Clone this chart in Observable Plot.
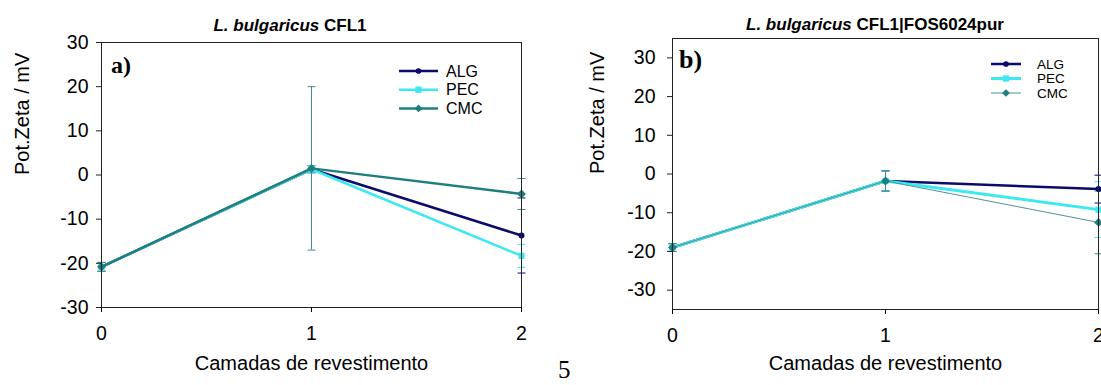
<!DOCTYPE html>
<html>
<head>
<meta charset="utf-8">
<script src="https://cdn.jsdelivr.net/npm/d3@7"></script>
<script src="https://cdn.jsdelivr.net/npm/@observablehq/plot@0.6"></script>
<style>
  html, body { margin: 0; padding: 0; background: #fff; }
  #wrap { position: relative; width: 1101px; height: 385px; overflow: hidden; font-family: "Liberation Sans", Arial, sans-serif; }
  .abs { position: absolute; }
  .title { font-weight: bold; font-size: 17px; white-space: nowrap; transform: translateX(-50%); color: #000; }
  .panel { font-family: "Liberation Serif", "Times New Roman", serif; font-weight: bold; color: #000; }
</style>
</head>
<body>
<div id="wrap"></div>
<script>
// ---------- data ----------
const layers = [0, 1, 2];
const seriesNames = ["ALG", "PEC", "CMC"];
const yTicksA = [-30, -20, -10, 0, 10, 20, 30];
const yTicksB = [-30, -20, -10, 0, 10, 20, 30];

// Panel a) L. bulgaricus CFL1
const aALG = [-20.8, 1.3, -13.7];
const aALGerr = [1.0, 0.8, 8.5];
const aPEC = [-20.8, 1.3, -18.3];
const aPECerr = [1.0, 0.8, 2.6];
const aCMC = [-20.8, 1.5, -4.3];
const aCMCerr = [1.0, 18.5, 3.5];

// Panel b) L. bulgaricus CFL1|FOS6024pur
const bALG = [-19.0, -1.8, -3.9];
const bALGerr = [1.0, 2.6, 3.6];
const bPEC = [-19.0, -1.8, -9.2];
const bPECerr = [1.0, 2.6, 7.2];
const bCMC = [-19.0, -1.8, -12.5];
const bCMCerr = [1.0, 2.6, 8.1];

// ---------- styles ----------
const colors = { ALG: "#0b0b6e", PEC: "#3de9f0", CMC: "#1f7e7e" };
const symbols = { ALG: "circle", PEC: "square", CMC: "diamond2" };

const cap = { draw(ctx, size) { const w = 4; ctx.moveTo(-w, 0); ctx.lineTo(w, 0); } };

function rows(vals, errs, name) {
  return layers.map((x, i) => ({ x, y: vals[i], lo: vals[i] - errs[i], hi: vals[i] + errs[i], s: name }));
}

function makePlot(cfg) {
  const marks = [];
  // error bars
  cfg.series.forEach(sr => {
    marks.push(Plot.ruleX(sr.data, { x: "x", y1: "lo", y2: "hi", stroke: sr.errColor, strokeWidth: 1 }));
    marks.push(Plot.dot(sr.data, { x: "x", y: "lo", symbol: cap, stroke: sr.errColor, strokeWidth: 1, r: 4 }));
    marks.push(Plot.dot(sr.data, { x: "x", y: "hi", symbol: cap, stroke: sr.errColor, strokeWidth: 1, r: 4 }));
  });
  // lines and markers
  cfg.series.forEach(sr => {
    marks.push(Plot.line(sr.data, { x: "x", y: "y", stroke: sr.color, strokeWidth: sr.width }));
    marks.push(Plot.dot(sr.data, { x: "x", y: "y", symbol: symbols[sr.name], fill: sr.markColor, stroke: "none", r: sr.r }));
  });
  marks.push(Plot.frame({ stroke: "#222", strokeWidth: 1 }));
  marks.push(Plot.axisY({ ticks: cfg.yTicks, tickSize: 5, tickPadding: cfg.yPad, fontSize: 19.5, label: null, stroke: "#222", tickFormat: d => String(d) }));
  marks.push(Plot.axisX({ ticks: layers, tickSize: 5, tickPadding: 14, fontSize: 19.5, label: null, tickFormat: d => String(d) }));
  marks.push(Plot.text(["Pot.Zeta / mV"], { frameAnchor: "left", dx: cfg.yLabelDx, rotate: -90, fontSize: 20, fill: "#000" }));
  marks.push(Plot.text(["Camadas de revestimento"], { frameAnchor: "bottom", dy: cfg.xLabelDy, fontSize: 20, fill: "#000" }));
  return Plot.plot({
    width: cfg.width, height: 385,
    marginLeft: cfg.ml, marginRight: cfg.mr, marginTop: cfg.mt, marginBottom: cfg.mb,
    x: { domain: [0, 2] },
    y: { domain: cfg.yDomain },
    style: { fontFamily: "'Liberation Sans', Arial, sans-serif", color: "#000", background: "transparent" },
    marks
  });
}

const wrap = document.getElementById("wrap");

const plotA = makePlot({
  width: 550, ml: 101, mr: 29, mt: 42, mb: 78, yDomain: [-30, 30], yTicks: yTicksA, yPad: 8,
  yLabelDx: -79, xLabelDy: 62,
  series: [
    { name: "ALG", data: rows(aALG, aALGerr, "ALG"), color: colors.ALG, markColor: colors.ALG, errColor: colors.ALG, width: 2.5, r: 3 },
    { name: "PEC", data: rows(aPEC, aPECerr, "PEC"), color: colors.PEC, markColor: colors.PEC, errColor: colors.PEC, width: 2.5, r: 3.5 },
    { name: "CMC", data: rows(aCMC, aCMCerr, "CMC"), color: colors.CMC, markColor: colors.CMC, errColor: "#3c8c8c", width: 2.5, r: 4 }
  ]
});
plotA.classList.add("abs"); plotA.style.left = "0px"; plotA.style.top = "0px";
wrap.appendChild(plotA);

const plotB = makePlot({
  width: 551, ml: 122, mr: 3, mt: 38, mb: 76, yDomain: [-35, 35], yTicks: yTicksB, yPad: 12,
  yLabelDx: -75, xLabelDy: 60,
  series: [
    { name: "ALG", data: rows(bALG, bALGerr, "ALG"), color: colors.ALG, markColor: colors.ALG, errColor: colors.ALG, width: 2.5, r: 3 },
    { name: "PEC", data: rows(bPEC, bPECerr, "PEC"), color: colors.PEC, markColor: colors.PEC, errColor: colors.PEC, width: 3, r: 3.5 },
    { name: "CMC", data: rows(bCMC, bCMCerr, "CMC"), color: "#4f9393", markColor: colors.CMC, errColor: "#3c8c8c", width: 1, r: 4 }
  ]
});
plotB.classList.add("abs"); plotB.style.left = "550px"; plotB.style.top = "0px";
wrap.appendChild(plotB);

// titles
function addTitle(html, cx, cy) {
  const d = document.createElement("div");
  d.className = "abs title"; d.innerHTML = html;
  d.style.left = cx + "px"; d.style.top = (cy - 10) + "px";
  wrap.appendChild(d);
}
addTitle("<i>L. bulgaricus</i> CFL1", 290, 26);
addTitle("<i>L. bulgaricus</i> CFL1|FOS6024pur", 875, 25);

// panel labels
function addPanel(txt, x, y, size) {
  const d = document.createElement("div");
  d.className = "abs panel"; d.textContent = txt;
  d.style.left = x + "px"; d.style.top = y + "px"; d.style.fontSize = size + "px";
  wrap.appendChild(d);
}
addPanel("a)", 111, 52, 24);
addPanel("b)", 679, 45, 26);

// page number
const pn = document.createElement("div");
pn.className = "abs"; pn.textContent = "5";
pn.style.cssText += "left:558px;top:356px;font-family:'Liberation Serif','Times New Roman',serif;font-size:25px;";
wrap.appendChild(pn);

// legends
function addLegend(x, y, lineW, gap, rowH, fontSize, styles) {
  const svg = d3.create("svg").attr("width", 120).attr("height", rowH * 3 + 10)
    .style("position", "absolute").style("left", x + "px").style("top", (y - 5) + "px")
    .style("overflow", "visible");
  seriesNames.forEach((n, i) => {
    const cy = 5 + i * rowH;
    const st = styles[n];
    svg.append("line").attr("x1", 0).attr("x2", lineW).attr("y1", cy).attr("y2", cy)
      .attr("stroke", st.color).attr("stroke-width", st.width);
    const sym = d3.symbol(n === "ALG" ? d3.symbolCircle : d3.symbolSquare, st.size);
    svg.append("path").attr("d", sym()).attr("transform", `translate(${lineW / 2},${cy})` + (n === "CMC" ? " rotate(45)" : ""))
      .attr("fill", st.mark);
    svg.append("text").attr("x", lineW + gap).attr("y", cy).attr("dy", "0.35em")
      .attr("font-size", fontSize).attr("font-family", "'Liberation Sans', Arial, sans-serif").text(n);
  });
  wrap.appendChild(svg.node());
}
addLegend(399, 71, 39, 8, 18.7, 16, {
  ALG: { color: colors.ALG, width: 2.5, mark: colors.ALG, size: 25 },
  PEC: { color: colors.PEC, width: 2.5, mark: colors.PEC, size: 40 },
  CMC: { color: colors.CMC, width: 2.5, mark: colors.CMC, size: 30 }
});
addLegend(991, 64, 30, 16, 14.5, 13.5, {
  ALG: { color: colors.ALG, width: 2.5, mark: colors.ALG, size: 25 },
  PEC: { color: colors.PEC, width: 3, mark: colors.PEC, size: 40 },
  CMC: { color: "#4f9393", width: 1, mark: colors.CMC, size: 30 }
});
</script>
</body>
</html>
